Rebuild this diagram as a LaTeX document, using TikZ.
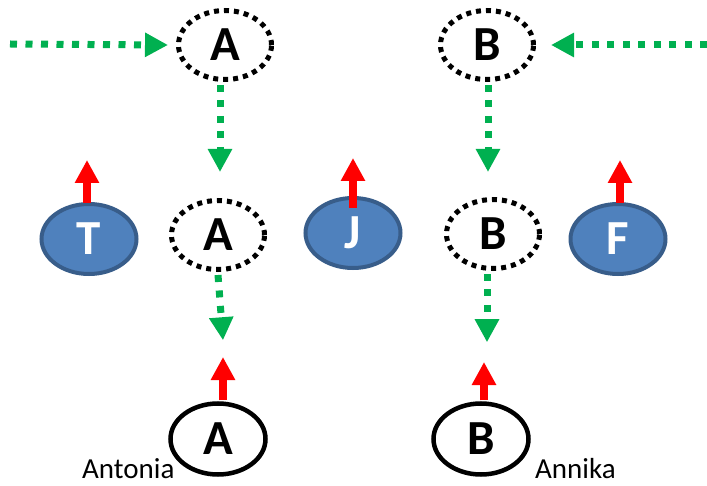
\documentclass[tikz,border=0pt]{standalone}
\usepackage{fontspec}
\setmainfont{Carlito}
\usetikzlibrary{arrows.meta,shapes.geometric}
\definecolor{ggreen}{HTML}{00B050}
\definecolor{bfill}{HTML}{4F81BD}
\definecolor{bline}{HTML}{385D8A}
\begin{document}
\begin{tikzpicture}[x=1pt,y=-1pt,
  letter/.style={font=\fontsize{49}{49}\selectfont\bfseries},
  dotell/.style={ellipse,draw=black,line width=5pt,dash pattern=on 5pt off 5pt,
    minimum width=93pt,minimum height=69pt,inner sep=0pt,letter},
  solidell/.style={ellipse,draw=black,line width=4.5pt,
    minimum width=95pt,minimum height=71pt,inner sep=0pt,letter},
  blueell/.style={ellipse,draw=bline,fill=bfill,line width=4pt,text=white,
    minimum width=95pt,minimum height=70pt,inner sep=0pt,letter},
  garrow/.style={draw=ggreen,line width=7pt,dash pattern=on 7pt off 8.5pt,
    -{Triangle[length=23pt,width=23pt,fill=ggreen]}},
  rarrow/.style={draw=red,line width=8pt,
    -{Triangle[length=23pt,width=23pt,fill=red]}},
  lbl/.style={font=\fontsize{29}{29}\selectfont,inner sep=0pt,anchor=base west}
]
\useasboundingbox (0,0) rectangle (707,486);
% nodes
\node[dotell] (A1) at (225,45) {A};
\node[dotell] (A2) at (218,235) {A};
\node[solidell] (A3) at (218,439) {A};
\node[dotell] (B1) at (487,45) {B};
\node[dotell] (B2) at (493,234) {B};
\node[solidell] (B3) at (481,439) {B};
\node[blueell] (T) at (89,239) {T};
\node[blueell] (J) at (353,233) {J};
\node[blueell] (F) at (618,239) {F};
\node[lbl] (lA) at (82,478) {Antonia};
\node[lbl] (lB) at (535,478) {Annika};
% free ends
\coordinate (gL) at (10,44);
\coordinate (gR) at (707,45);
\coordinate (rT) at (87,160);
\coordinate (rJ) at (353,158);
\coordinate (rF) at (620,160);
\coordinate (rA) at (223,357);
\coordinate (rB) at (484,362);
% green arrows
\draw[garrow] (gL) -- ([xshift=-8pt]A1.west);
\draw[garrow] (gR) -- ([xshift=15pt]B1.east);
\draw[garrow] ([xshift=-5pt,yshift=-3pt]A1.south) -- ([xshift=2pt,yshift=26pt]A2.north);
\draw[garrow] ([yshift=-3pt]A2.south) -- ([xshift=5pt,yshift=61pt]A3.north);
\draw[garrow] ([xshift=1pt,yshift=-3pt]B1.south) -- ([xshift=-5pt,yshift=25pt]B2.north);
\draw[garrow] ([xshift=-6pt,yshift=-3pt]B2.south) -- ([xshift=6pt,yshift=59pt]B3.north);
% red arrows
\draw[rarrow] ([xshift=-2pt,yshift=-1pt]T.north) -- (rT);
\draw[rarrow] ([yshift=-12pt]J.north) -- (rJ);
\draw[rarrow] ([xshift=2pt,yshift=-1pt]F.north) -- (rF);
\draw[rarrow] ([xshift=5pt,yshift=1pt]A3.north) -- (rA);
\draw[rarrow] ([xshift=3pt,yshift=1pt]B3.north) -- (rB);
\end{tikzpicture}
\end{document}
